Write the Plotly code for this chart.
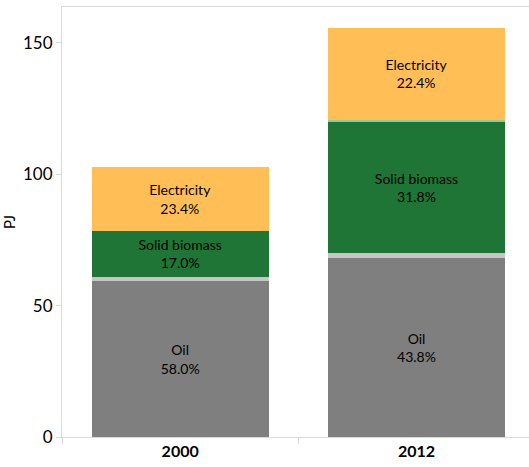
import plotly.graph_objects as go

years = ["2000", "2012"]
oil = [59.4, 68.3]
other = [1.7, 1.9]
solid_biomass = [17.4, 49.6]
biogas = [0.1, 1.0]
electricity = [24.0, 34.9]

oil_pct = ["58.0%", "43.8%"]
biomass_pct = ["17.0%", "31.8%"]
elec_pct = ["23.4%", "22.4%"]

xpos = list(range(len(years)))
FONT = "Lato, Open Sans, sans-serif"

fig = go.Figure()

def add(name, vals, color, pct=None):
    kw = {}
    if pct is not None:
        kw = dict(
            text=[f"{name}<br>{p}" for p in pct],
            textposition="inside",
            insidetextanchor="middle",
            textangle=0,
            textfont=dict(family=FONT, size=14, color="black"),
            texttemplate="%{text}",
        )
    fig.add_trace(go.Bar(x=xpos, y=vals, name=name, marker=dict(color=color, line=dict(width=0)),
                         hoverinfo="skip", **kw))

add("Oil", oil, "#7f7f7f", oil_pct)
add("Other", other, "#c6c6c6")
add("Solid biomass", solid_biomass, "#1e7535", biomass_pct)
add("Biogas", biogas, "#a6c48f")
add("Electricity", electricity, "#ffbf56", elec_pct)

fig.update_layout(
    barmode="stack",
    bargap=0.25,
    width=529, height=467,
    margin=dict(l=62, r=0, t=7, b=30, pad=0),
    plot_bgcolor="white", paper_bgcolor="white",
    showlegend=False,
    uniformtext=dict(minsize=12, mode="show"),
    font=dict(family=FONT, color="black"),
)
fig.update_xaxes(
    range=[-0.5, 1.476],
    tickmode="array", tickvals=xpos, ticktext=years,
    ticks="", showgrid=False, zeroline=False,
    showline=True, linecolor="#d9d9d9", linewidth=1, mirror=True,
    tickfont=dict(family=FONT, size=16, color="black", weight="bold"),
    minor=dict(tickmode="array", tickvals=[-0.5, 0.5, 1.5], ticks="outside", ticklen=6, tickcolor="#d9d9d9"),
)
fig.update_yaxes(
    range=[0, 163.7],
    tickvals=[0, 50, 100, 150],
    ticks="outside", ticklen=5, tickcolor="#d9d9d9",
    showgrid=False, zeroline=False,
    showline=True, linecolor="#d9d9d9", linewidth=1,
    tickfont=dict(family=FONT, size=17, color="black"),
    title=dict(text="PJ", font=dict(family=FONT, size=15, color="black"), standoff=9),
)

fig.write_html("out.html")
